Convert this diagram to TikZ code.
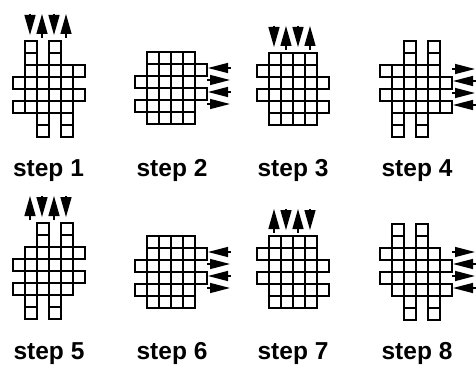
\documentclass[tikz,border=0pt]{standalone}
\usepackage{fontspec}
\setmainfont{Liberation Sans}
\usetikzlibrary{arrows.meta}
\tikzset{
  cell/.style = {draw=black, line width=1.8pt},% one square of the grid
  vtip/.style = {line width=1.4pt, -{Triangle[length=20pt,width=11pt]}},% column shift
  htip/.style = {line width=1.4pt, -{Triangle[length=20pt,width=10pt]}},% row shift
  lbl/.style = {anchor=base, inner sep=0pt,
    font=\fontsize{24.5}{26}\selectfont\bfseries}
}

\begin{document}
\begin{tikzpicture}[x=1pt,y=-1pt]
\useasboundingbox (0,0) rectangle (476,366);

% step 1
\begin{scope}[shift={(13,41)}]
\foreach \r/\a/\b in {0/1/1,0/3/3,1/1/1,1/3/3,2/1/5,3/0/4,4/1/5,5/0/4,6/2/2,6/4/4,7/2/2,7/4/4}
  \foreach \c in {\a,...,\b} \draw[cell] (12*\c,12*\r) rectangle ++(12,12);
\foreach \c/\ya/\yb in {1/-27/-6,2/-3/-27,3/-27/-6,4/-3/-27}
  \draw[vtip] (12*\c+5,\ya) -- (12*\c+5,\yb);
\end{scope}

% step 2
\begin{scope}[shift={(135,52)}]
\foreach \r/\a/\b in {0/1/4,1/1/5,2/0/4,3/1/5,4/0/4,5/1/4}
  \foreach \c in {\a,...,\b} \draw[cell] (12*\c,12*\r) rectangle ++(12,12);
\foreach \r/\xa/\xb in {1/96/73,2/72/95,3/96/73,4/72/95}
  \draw[htip] (\xa,12*\r+4) -- (\xb,12*\r+4);
\end{scope}

% step 3
\begin{scope}[shift={(257,53)}]
\foreach \r/\a/\b in {0/1/4,1/0/4,2/1/5,3/0/4,4/1/5,5/1/4}
  \foreach \c in {\a,...,\b} \draw[cell] (12*\c,12*\r) rectangle ++(12,12);
\foreach \c/\ya/\yb in {1/-27/-6,2/-3/-27,3/-27/-6,4/-3/-27}
  \draw[vtip] (12*\c+5,\ya) -- (12*\c+5,\yb);
\end{scope}

% step 4
\begin{scope}[shift={(380,41)}]
\foreach \r/\a/\b in {0/2/2,0/4/4,1/2/2,1/4/4,2/0/4,3/1/5,4/0/4,5/1/5,6/1/1,6/3/3,7/1/1,7/3/3}
  \foreach \c in {\a,...,\b} \draw[cell] (12*\c,12*\r) rectangle ++(12,12);
\foreach \r/\xa/\xb in {2/72/95,3/96/73,4/72/95,5/96/73}
  \draw[htip] (\xa,12*\r+4) -- (\xb,12*\r+4);
\end{scope}

% step 5
\begin{scope}[shift={(13,223)}]
\foreach \r/\a/\b in {0/2/2,0/4/4,1/2/2,1/4/4,2/1/5,3/0/4,4/1/5,5/0/4,6/1/1,6/3/3,7/1/1,7/3/3}
  \foreach \c in {\a,...,\b} \draw[cell] (12*\c,12*\r) rectangle ++(12,12);
\foreach \c/\ya/\yb in {1/-3/-27,2/-27/-6,3/-3/-27,4/-27/-6}
  \draw[vtip] (12*\c+5,\ya) -- (12*\c+5,\yb);
\end{scope}

% step 6
\begin{scope}[shift={(135,236)}]
\foreach \r/\a/\b in {0/1/4,1/1/5,2/0/4,3/1/5,4/0/4,5/1/4}
  \foreach \c in {\a,...,\b} \draw[cell] (12*\c,12*\r) rectangle ++(12,12);
\foreach \r/\xa/\xb in {1/96/73,2/72/95,3/96/73,4/72/95}
  \draw[htip] (\xa,12*\r+4) -- (\xb,12*\r+4);
\end{scope}

% step 7
\begin{scope}[shift={(257,236)}]
\foreach \r/\a/\b in {0/1/4,1/0/4,2/1/5,3/0/4,4/1/5,5/1/4}
  \foreach \c in {\a,...,\b} \draw[cell] (12*\c,12*\r) rectangle ++(12,12);
\foreach \c/\ya/\yb in {1/-3/-27,2/-27/-6,3/-3/-27,4/-27/-6}
  \draw[vtip] (12*\c+5,\ya) -- (12*\c+5,\yb);
\end{scope}

% step 8
\begin{scope}[shift={(380,224)}]
\foreach \r/\a/\b in {0/1/1,0/3/3,1/1/1,1/3/3,2/0/4,3/1/5,4/0/4,5/1/5,6/2/2,6/4/4,7/2/2,7/4/4}
  \foreach \c in {\a,...,\b} \draw[cell] (12*\c,12*\r) rectangle ++(12,12);
\foreach \r/\xa/\xb in {2/72/95,3/96/73,4/72/95,5/96/73}
  \draw[htip] (\xa,12*\r+4) -- (\xb,12*\r+4);
\end{scope}

% labels
\node[lbl] (s1) at (48.5,177) {step 1};
\node[lbl] (s2) at (172,177) {step 2};
\node[lbl] (s3) at (293,177) {step 3};
\node[lbl] (s4) at (417,177) {step 4};
\node[lbl] (s5) at (49,359) {step 5};
\node[lbl] (s6) at (172,359) {step 6};
\node[lbl] (s7) at (293,359) {step 7};
\node[lbl] (s8) at (417,359) {step 8};
\end{tikzpicture}
\end{document}
